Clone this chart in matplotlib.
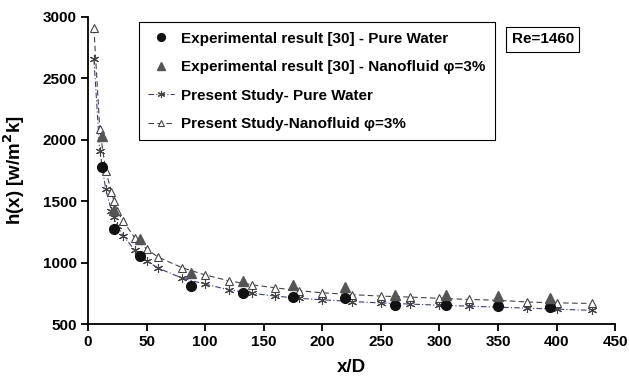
import matplotlib
matplotlib.use("Agg")
import matplotlib.pyplot as plt

plt.rcParams['font.family'] = ['Liberation Sans', 'DejaVu Sans']
plt.rcParams['font.weight'] = 'bold'

# experimental data [30]
exp_x_water = [12, 22, 44, 88, 132, 175, 219, 262, 306, 350, 394]
exp_h_water = [1780, 1270, 1055, 810, 750, 722, 710, 657, 655, 647, 641]
exp_x_nano = [12, 22, 44, 88, 132, 175, 219, 262, 306, 350, 394]
exp_h_nano = [2030, 1430, 1195, 915, 850, 815, 805, 736, 736, 730, 709]

# present study (simulation)
sim_x = [5, 10, 15, 20, 22, 25, 30, 40, 50, 60, 80, 100, 120, 140, 160, 180,
         200, 225, 250, 275, 300, 325, 350, 375, 400, 430]
sim_h_water = [2655, 1910, 1600, 1420, 1370, 1300, 1220, 1100, 1015, 955, 875, 825,
               780, 750, 728, 710, 698, 684, 672, 663, 654, 646, 638, 630, 622, 612]
sim_h_nano = [2910, 2090, 1750, 1575, 1505, 1420, 1338, 1200, 1110, 1045, 960, 900,
              853, 820, 795, 772, 755, 740, 728, 720, 710, 701, 694, 680, 673, 668]

fig = plt.figure(figsize=(6.29, 3.76), dpi=100)
ax = fig.add_axes([0.14, 0.138, 0.838, 0.817])

ax.plot(sim_x, sim_h_water, color='#3a3a9a', linestyle=(0, (5, 2, 1, 2)), linewidth=0.8,
        marker=(6, 2, 0), markersize=6.5, markeredgecolor='#444444', markeredgewidth=0.8,
        label='Present Study- Pure Water', zorder=2)
ax.plot(sim_x, sim_h_nano, color='#444444', linestyle=(0, (5, 3)), linewidth=0.8,
        marker='^', markersize=6, markerfacecolor='white', markeredgecolor='#444444',
        markeredgewidth=0.8, label='Present Study-Nanofluid \u03c6=3%', zorder=2)
ax.plot(exp_x_water, exp_h_water, linestyle='none', marker='o', markersize=7,
        color='#111111', label='Experimental result [30] - Pure Water', zorder=3)
ax.plot(exp_x_nano, exp_h_nano, linestyle='none', marker='^', markersize=7,
        color='#555555', label='Experimental result [30] - Nanofluid \u03c6=3%', zorder=3)

ax.set_xlim(0, 450)
ax.set_ylim(500, 3000)
ax.set_xticks(range(0, 451, 50))
ax.set_yticks(range(500, 3001, 500))
ax.spines['top'].set_visible(False)
ax.spines['right'].set_visible(False)
ax.spines['left'].set_linewidth(1.3)
ax.spines['bottom'].set_linewidth(1.3)
ax.tick_params(direction='out', length=5, width=1.3, labelsize=11, pad=3)
for lab in ax.get_xticklabels() + ax.get_yticklabels():
    lab.set_fontweight('bold')

ax.set_xlabel('x/D', fontsize=13.5, fontweight='bold')
ax.set_ylabel('h(x) [w/m$^\\mathbf{2}$k]', fontsize=13.5, fontweight='bold')
ax.xaxis.set_label_coords(0.5, -0.112)
ax.yaxis.set_label_coords(-0.116, 0.5)

handles, labels = ax.get_legend_handles_labels()
order = [2, 3, 0, 1]
leg = ax.legend([handles[i] for i in order], [labels[i] for i in order],
                loc='upper left', bbox_to_anchor=(0.097, 0.982), fancybox=False,
                edgecolor='black', framealpha=1, handlelength=1.7, handletextpad=0.45,
                borderpad=0.6, labelspacing=0.95, borderaxespad=0, markerscale=0.8,
                prop={'weight': 'bold', 'size': 11})
leg.get_frame().set_linewidth(0.8)

ax.text(0.863, 0.927, 'Re=1460', transform=ax.transAxes, ha='center', va='center',
        fontsize=11, fontweight='bold',
        bbox=dict(boxstyle='square,pad=0.35', facecolor='white', edgecolor='black', linewidth=0.8))

fig.savefig('out.png', dpi=100)
